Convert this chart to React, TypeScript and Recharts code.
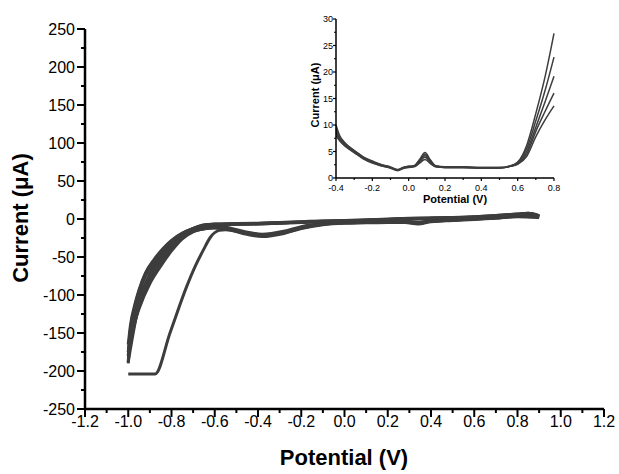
import React from 'react'
import { LineChart, Line, XAxis, YAxis, Label } from 'recharts'

// ---- main CV (Potential in V, Current in µA) ----
// first cathodic sweep, hits the current limit at about -204 µA
const firstSweepE = [0.9, 0.8, 0.7, 0.6, 0.5, 0.4, 0.34, 0.28, 0.2, 0.1, 0, -0.1, -0.2, -0.28, -0.38, -0.47, -0.55, -0.58, -0.62, -0.653, -0.69, -0.73, -0.807, -0.876, -1.0]
const firstSweepI = [3, 3.5, 1.5, 0, -1.5, -3, -6, -4, -4, -4.5, -5, -7, -12, -18, -22, -18, -14, -15, -24, -41, -62, -89, -150, -204, -204]

// later cathodic sweeps
const downE = [0.9, 0.8, 0.7, 0.6, 0.5, 0.4, 0.34, 0.28, 0.2, 0.1, 0, -0.1, -0.2, -0.28, -0.38, -0.47, -0.55, -0.6, -0.65, -0.7, -0.75, -0.8, -0.85, -0.9, -0.95, -1.0]
const down2 = [3, 4, 2, 0.5, -1, -2.5, -5, -3.5, -3.5, -4, -4.5, -6.5, -11, -17, -21, -17, -12, -11, -13, -17, -26, -42, -62, -85, -118, -165]
const down3 = [2, 3, 1, -0.5, -2, -3.5, -6.5, -4.5, -4.5, -5, -5.5, -7.5, -12.5, -19, -23, -19, -13, -12, -13, -16, -24, -38, -56, -80, -115, -175]
const down4 = [3.5, 4.5, 2.5, 1, -0.5, -2, -4.5, -3, -3, -3.5, -4, -6, -10, -16, -20, -16, -11, -10, -12, -15, -22, -34, -50, -72, -108, -180]
const down5 = [2.5, 3.5, 1.5, 0, -1.5, -3, -5.5, -4, -4, -4.5, -5, -7, -12, -18, -22, -18, -12.5, -11.5, -13, -16, -23, -36, -53, -76, -112, -188]

// anodic (return) sweeps
const upE = [-1.0, -0.99, -0.97, -0.95, -0.92, -0.88, -0.84, -0.8, -0.75, -0.7, -0.65, -0.6, -0.5, -0.4, -0.3, -0.2, -0.1, 0, 0.1, 0.2, 0.3, 0.4, 0.5, 0.6, 0.7, 0.8, 0.85, 0.9]
const up1 = [-190, -150, -120, -98, -75, -57, -42, -30, -20, -13.5, -9, -7.5, -7, -6.5, -5.5, -4.5, -3.5, -3, -2, -1, 0, 0.5, 1, 2, 3.5, 5.5, 6.5, 3.5]
const up2 = [-165, -140, -113, -93, -71, -53, -39, -28, -18.5, -12.5, -8, -7, -6.5, -6, -5, -4, -3, -2.5, -1.5, -0.5, 0.5, 1, 1.5, 2.5, 4, 6, 7, 4]
const up3 = [-175, -145, -116, -95, -72, -55, -40, -29, -19, -13, -8.5, -7.5, -7, -6.5, -5.5, -4.5, -3.5, -3, -2, -1, 0, 0.5, 1, 2, 3.5, 5.5, 6.5, 3]
const up4 = [-180, -148, -118, -96, -73, -56, -41, -29.5, -19.5, -13, -8.5, -7, -6.5, -6, -5, -4, -3, -2.5, -1.5, -0.5, 0.5, 1, 1.5, 2.5, 4.5, 6.5, 7.5, 4.5]
const up5 = [-188, -152, -120, -97, -74, -56, -41, -29, -19, -12.5, -8, -6.5, -6, -5.5, -4.5, -3.5, -2.5, -2, -1, 0, 1, 1.5, 2, 3, 4.5, 6.5, 7.5, 4]

const mainXTicks = [-1.2, -1.1, -1.0, -0.9, -0.8, -0.7, -0.6, -0.5, -0.4, -0.3, -0.2, -0.1, 0, 0.1, 0.2, 0.3, 0.4, 0.5, 0.6, 0.7, 0.8, 0.9, 1.0, 1.1, 1.2]
const mainXLabels = [-1.2, -1.0, -0.8, -0.6, -0.4, -0.2, 0, 0.2, 0.4, 0.6, 0.8, 1.0, 1.2]
const mainYTicks = [-250, -225, -200, -175, -150, -125, -100, -75, -50, -25, 0, 25, 50, 75, 100, 125, 150, 175, 200, 225, 250]
const mainYLabels = [-250, -200, -150, -100, -50, 0, 50, 100, 150, 200, 250]

// ---- inset: zoom of the anodic region ----
const insetE = [-0.4, -0.38, -0.35, -0.3, -0.25, -0.2, -0.15, -0.1, -0.06, -0.03, 0, 0.03, 0.06, 0.09, 0.12, 0.15, 0.2, 0.3, 0.4, 0.5, 0.56, 0.6, 0.65, 0.7, 0.75, 0.8]
const inset1 = [10.0, 8.0, 6.6, 5.2, 4.0, 3.2, 2.5, 2.1, 1.6, 2.0, 2.2, 2.3, 3.5, 4.8, 3.4, 2.3, 2.1, 2.1, 2.0, 2.0, 2.3, 3.0, 6.2, 12.2, 19.0, 27.3]
const inset2 = [9.5, 7.8, 6.5, 5.1, 3.9, 3.1, 2.5, 2.0, 1.5, 2.0, 2.2, 2.3, 3.4, 4.5, 3.2, 2.2, 2.1, 2.1, 2.0, 2.0, 2.3, 2.9, 5.6, 10.8, 16.4, 22.8]
const inset3 = [9.0, 7.5, 6.3, 5.0, 3.8, 3.0, 2.4, 2.0, 1.5, 1.9, 2.1, 2.2, 3.2, 4.2, 3.0, 2.2, 2.0, 2.0, 1.9, 1.9, 2.2, 2.8, 5.0, 9.6, 14.3, 19.2]
const inset4 = [8.5, 7.2, 6.1, 4.9, 3.7, 2.9, 2.3, 1.9, 1.4, 1.9, 2.1, 2.2, 3.0, 3.9, 2.9, 2.1, 2.0, 2.0, 1.9, 1.9, 2.2, 2.7, 4.5, 8.8, 12.5, 16.0]
const inset5 = [8.0, 7.0, 6.0, 4.8, 3.6, 2.8, 2.3, 1.9, 1.4, 1.8, 2.0, 2.1, 2.8, 3.5, 2.7, 2.1, 2.0, 2.0, 1.9, 1.9, 2.2, 2.6, 4.1, 7.8, 10.9, 13.6]

const insetXTicks = [-0.4, -0.3, -0.2, -0.1, 0, 0.1, 0.2, 0.3, 0.4, 0.5, 0.6, 0.7, 0.8]
const insetXLabels = [-0.4, -0.2, 0, 0.2, 0.4, 0.6, 0.8]
const insetYTicks = [0, 2.5, 5, 7.5, 10, 12.5, 15, 17.5, 20, 22.5, 25, 27.5, 30]
const insetYLabels = [0, 5, 10, 15, 20, 25, 30]

const FONT = "'Liberation Sans', Arial, sans-serif"
const LINE = '#3d3d3d'

const pts = (E: number[], I: number[]) => E.map((e, i) => ({ E: e, I: I[i] }))
const has = (arr: number[], v: number) => arr.some((m) => Math.abs(m - v) < 1e-6)

const cathodic = [pts(firstSweepE, firstSweepI), pts(downE, down2), pts(downE, down3), pts(downE, down4), pts(downE, down5)]
const anodic = [pts(upE, up1), pts(upE, up2), pts(upE, up3), pts(upE, up4), pts(upE, up5)]
const insetCurves = [inset1, inset2, inset3, inset4, inset5].map((c) => pts(insetE, c))

function MainXTick({ x, y, payload }: any) {
  const v = payload.value
  const major = has(mainXLabels, v)
  return (
    <g>
      <line x1={x} x2={x} y1={y} y2={y + (major ? 8 : 4)} stroke="#000" strokeWidth={2} />
      {major && (
        <text x={x} y={y + 18} textAnchor="middle" fontSize={16} fontFamily={FONT} fill="#000">
          {v.toFixed(1)}
        </text>
      )}
    </g>
  )
}

function MainYTick({ x, y, payload }: any) {
  const v = payload.value
  const major = has(mainYLabels, v)
  return (
    <g>
      <line x1={x} x2={x - (major ? 8 : 4)} y1={y} y2={y} stroke="#000" strokeWidth={2} />
      {major && (
        <text x={x - 10} y={y + 6} textAnchor="end" fontSize={16} fontFamily={FONT} fill="#000">
          {v}
        </text>
      )}
    </g>
  )
}

function InsetXTick({ x, y, payload }: any) {
  const v = payload.value
  const major = has(insetXLabels, v)
  return (
    <g>
      <line x1={x} x2={x} y1={y} y2={y + (major ? 3 : 2)} stroke="#000" strokeWidth={1.2} />
      {major && (
        <text x={x} y={y + 13} textAnchor="middle" fontSize={9} fontFamily={FONT} fill="#000">
          {v.toFixed(1)}
        </text>
      )}
    </g>
  )
}

function InsetYTick({ x, y, payload }: any) {
  const v = payload.value
  const major = has(insetYLabels, v)
  return (
    <g>
      <line x1={x} x2={x - (major ? 3 : 2)} y1={y} y2={y} stroke="#000" strokeWidth={1.2} />
      {major && (
        <text x={x - 3} y={y + 3} textAnchor="end" fontSize={9} fontFamily={FONT} fill="#000">
          {v}
        </text>
      )}
    </g>
  )
}

export default function App() {
  return (
    <div style={{ position: 'absolute', left: 0, top: 0, width: 619, height: 474, background: '#fff' }}>
      {/* main voltammogram */}
      <div style={{ position: 'absolute', left: 0, top: 0 }}>
        <LineChart width={619} height={474} margin={{ top: 29, right: 15, left: 0, bottom: 0 }}>
          <XAxis
            type="number"
            dataKey="E"
            domain={[-1.2, 1.2]}
            ticks={mainXTicks}
            interval={0}
            tickSize={0}
            tickMargin={0}
            height={65}
            tick={<MainXTick />}
            axisLine={{ stroke: '#000', strokeWidth: 2.5 }}
            allowDataOverflow
          >
            <Label
              content={() => (
                <text x={344} y={465} textAnchor="middle" fontSize={22} fontWeight="bold" fontFamily={FONT} fill="#000">
                  Potential (V)
                </text>
              )}
            />
          </XAxis>
          <YAxis
            type="number"
            dataKey="I"
            domain={[-250, 250]}
            ticks={mainYTicks}
            interval={0}
            tickSize={0}
            tickMargin={0}
            width={85}
            tick={<MainYTick />}
            axisLine={{ stroke: '#000', strokeWidth: 2.5 }}
            allowDataOverflow
          >
            <Label
              content={() => (
                <text
                  x={28}
                  y={218}
                  transform="rotate(-90, 28, 218)"
                  textAnchor="middle"
                  fontSize={22}
                  fontWeight="bold"
                  fontFamily={FONT}
                  fill="#000"
                >
                  Current (μA)
                </text>
              )}
            />
          </YAxis>
          {cathodic.map((d, i) => (
            <Line key={'c' + i} data={d} dataKey="I" type="monotone" dot={false} stroke={LINE} strokeWidth={3} isAnimationActive={false} />
          ))}
          {anodic.map((d, i) => (
            <Line key={'a' + i} data={d} dataKey="I" type="monotone" dot={false} stroke={LINE} strokeWidth={3} isAnimationActive={false} />
          ))}
        </LineChart>
      </div>

      {/* inset */}
      <div style={{ position: 'absolute', left: 290, top: 0 }}>
        <LineChart width={274} height={210} margin={{ top: 19, right: 10, left: 0, bottom: 0 }}>
          <XAxis
            type="number"
            dataKey="E"
            domain={[-0.4, 0.8]}
            ticks={insetXTicks}
            interval={0}
            tickSize={0}
            tickMargin={0}
            height={32}
            tick={<InsetXTick />}
            axisLine={{ stroke: '#000', strokeWidth: 1.5 }}
          >
            <Label
              content={() => (
                <text x={165} y={203} textAnchor="middle" fontSize={11} fontWeight="bold" fontFamily={FONT} fill="#000">
                  Potential (V)
                </text>
              )}
            />
          </XAxis>
          <YAxis
            type="number"
            dataKey="I"
            domain={[0, 30]}
            ticks={insetYTicks}
            interval={0}
            tickSize={0}
            tickMargin={0}
            width={46}
            tick={<InsetYTick />}
            axisLine={{ stroke: '#000', strokeWidth: 1.5 }}
          >
            <Label
              content={() => (
                <text
                  x={29}
                  y={95}
                  transform="rotate(-90, 29, 95)"
                  textAnchor="middle"
                  fontSize={11}
                  fontWeight="bold"
                  fontFamily={FONT}
                  fill="#000"
                >
                  Current (μA)
                </text>
              )}
            />
          </YAxis>
          {insetCurves.map((d, i) => (
            <Line key={'i' + i} data={d} dataKey="I" type="monotone" dot={false} stroke={LINE} strokeWidth={1.5} isAnimationActive={false} />
          ))}
        </LineChart>
      </div>
    </div>
  )
}
